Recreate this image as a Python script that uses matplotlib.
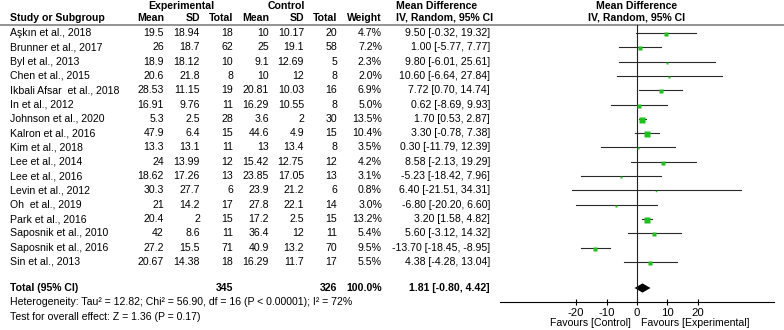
import numpy as np
from matplotlib import pyplot as plt

# =========================== DATA ====================================
studies = ['Aşkın et al., 2018', 'Brunner et al., 2017', 'Byl et al., 2013',
           'Chen et al., 2015', 'Ikbali Afsar  et al., 2018', 'In et al., 2012',
           'Johnson et al., 2020', 'Kalron et al., 2016', 'Kim et al., 2018',
           'Lee et al., 2014', 'Lee et al., 2016', 'Levin et al., 2012',
           'Oh  et al., 2019', 'Park et al., 2016', 'Saposnik et al., 2010',
           'Saposnik et al., 2016', 'Sin et al., 2013']
exp_mean = [19.5, 26, 18.9, 20.6, 28.53, 16.91, 5.3, 47.9, 13.3, 24, 18.62,
            30.3, 21, 20.4, 42, 27.2, 20.67]
exp_sd = [18.94, 18.7, 18.12, 21.8, 11.15, 9.76, 2.5, 6.4, 13.1, 13.99, 17.26,
          27.7, 14.2, 2, 8.6, 15.5, 14.38]
exp_n = [18, 62, 10, 8, 19, 11, 28, 15, 11, 12, 13, 6, 17, 15, 11, 71, 18]
ctl_mean = [10, 25, 9.1, 10, 20.81, 16.29, 3.6, 44.6, 13, 15.42, 23.85, 23.9,
            27.8, 17.2, 36.4, 40.9, 16.29]
ctl_sd = [10.17, 19.1, 12.69, 12, 10.03, 10.55, 2, 4.9, 13.4, 12.75, 17.05,
          21.2, 22.1, 2.5, 12, 13.2, 11.7]
ctl_n = [20, 58, 5, 8, 16, 8, 30, 15, 8, 12, 13, 6, 14, 15, 11, 70, 17]
weight = [4.7, 7.2, 2.3, 2.0, 6.9, 5.0, 13.5, 10.4, 3.5, 4.2, 3.1, 0.8, 3.0,
          13.2, 5.4, 9.5, 5.5]
md = [9.50, 1.00, 9.80, 10.60, 7.72, 0.62, 1.70, 3.30, 0.30, 8.58, -5.23,
      6.40, -6.80, 3.20, 5.60, -13.70, 4.38]
ci_lo = [-0.32, -5.77, -6.01, -6.64, 0.70, -8.69, 0.53, -0.78, -11.79, -2.13,
         -18.42, -21.51, -20.20, 1.58, -3.12, -18.45, -4.28]
ci_hi = [19.32, 7.77, 25.61, 27.84, 14.74, 9.93, 2.87, 7.38, 12.39, 19.29,
         7.96, 34.31, 6.60, 4.82, 14.32, -8.95, 13.04]
total_exp, total_ctl = 345, 326
pooled = [1.81, -0.80, 4.42]
xticks = [-20, -10, 0, 10, 20]

# ========================= LAYOUT ====================================
W, H = 784, 330
FS = 7.6
plt.rcParams['font.family'] = ['Liberation Sans', 'DejaVu Sans']

fig = plt.figure(figsize=(W / 100, H / 100), dpi=100)
tx = fig.add_axes([0, 0, 1, 1])
tx.set_xlim(0, W)
tx.set_ylim(H, 0)
tx.axis('off')

row_y = 33 + 14.31 * np.arange(len(studies))
col_r = [164, 200, 233, 269, 304, 337, 382, 490]

# headers
tx.text(181, 6, 'Experimental', ha='center', va='center', fontsize=FS,
        weight='bold')
tx.text(286, 6, 'Control', ha='center', va='center', fontsize=FS,
        weight='bold')
tx.text(396, 6, 'Mean Difference', ha='left', va='center', fontsize=FS,
        weight='bold')
tx.text(637, 6, 'Mean Difference', ha='center', va='center', fontsize=FS,
        weight='bold')
tx.text(10, 18, 'Study or Subgroup', ha='left', va='center', fontsize=FS,
        weight='bold')
for lab, xr in zip(['Mean', 'SD', 'Total', 'Mean', 'SD', 'Total', 'Weight'],
                   col_r[:7]):
    tx.text(xr, 18, lab, ha='right', va='center', fontsize=FS, weight='bold')
tx.text(396, 18, 'IV, Random, 95% CI', ha='left', va='center', fontsize=FS,
        weight='bold')
tx.text(637, 18, 'IV, Random, 95% CI', ha='center', va='center', fontsize=FS,
        weight='bold')
tx.plot([0, W], [24.5, 24.5], color='#8a8a8a', lw=1.3)

# study rows
for i, y in enumerate(row_y):
    tx.text(10, y, studies[i], ha='left', va='center', fontsize=FS)
    vals = ['%g' % exp_mean[i], '%g' % exp_sd[i], '%d' % exp_n[i],
            '%g' % ctl_mean[i], '%g' % ctl_sd[i], '%d' % ctl_n[i],
            '%.1f%%' % weight[i],
            '%.2f [%.2f, %.2f]' % (md[i], ci_lo[i], ci_hi[i])]
    for v, xr in zip(vals, col_r):
        tx.text(xr, y, v, ha='right', va='center', fontsize=FS)

# total row
ty = 288
tx.text(10, ty, 'Total (95% CI)', ha='left', va='center', fontsize=FS,
        weight='bold')
tot_vals = ['%d' % total_exp, '%d' % total_ctl, '100.0%',
            '%.2f [%.2f, %.2f]' % tuple(pooled)]
for v, xr in zip(tot_vals, [col_r[2], col_r[5], col_r[6], col_r[7]]):
    tx.text(xr, ty, v, ha='right', va='center', fontsize=FS, weight='bold')
tx.text(10, 302, 'Heterogeneity: Tau² = 12.82; Chi² = 56.90, df = 16 '
        '(P < 0.00001); I² = 72%', ha='left', va='center', fontsize=FS)
tx.text(10, 317, 'Test for overall effect: Z = 1.36 (P = 0.17)',
        ha='left', va='center', fontsize=FS)

# ========================= FOREST ====================================
x0, x1 = 500, 774
ax = fig.add_axes([x0 / W, 0, (x1 - x0) / W, 1])
ax.set_xlim(-45, 45)
ax.set_ylim(H, 0)
ax.patch.set_alpha(0)
for side in ['top', 'right', 'left']:
    ax.spines[side].set_visible(False)
ax.spines['bottom'].set_position(('data', 302))
ax.spines['bottom'].set_linewidth(0.8)
ax.set_yticks([])
ax.set_xticks(xticks)
ax.set_xticklabels([str(t) for t in xticks])
ax.tick_params(axis='x', direction='inout', length=5, width=0.8,
               labelsize=FS + 0.6, pad=1.5)

ax.plot([0, 0], [24.5, 302], color='#222222', lw=0.8)
for i, y in enumerate(row_y):
    ax.plot([ci_lo[i], ci_hi[i]], [y, y], color='#2a2a2a', lw=0.8)
    ms = 1.6 * np.sqrt(weight[i]) * 0.72
    ax.plot(md[i], y + 1, marker='s', ms=ms, color='#1fbf1f', mec='none')

dx = [pooled[1], pooled[0], pooled[2], pooled[0]]
dy = [ty, ty - 4.6, ty, ty + 4.6]
ax.fill(dx, dy, color='black', lw=0)

tx.text(631, 323, 'Favours [Control]', ha='right', va='center', fontsize=FS)
tx.text(641, 323, 'Favours [Experimental]', ha='left', va='center',
        fontsize=FS)

plt.savefig('out.png', dpi=100)
